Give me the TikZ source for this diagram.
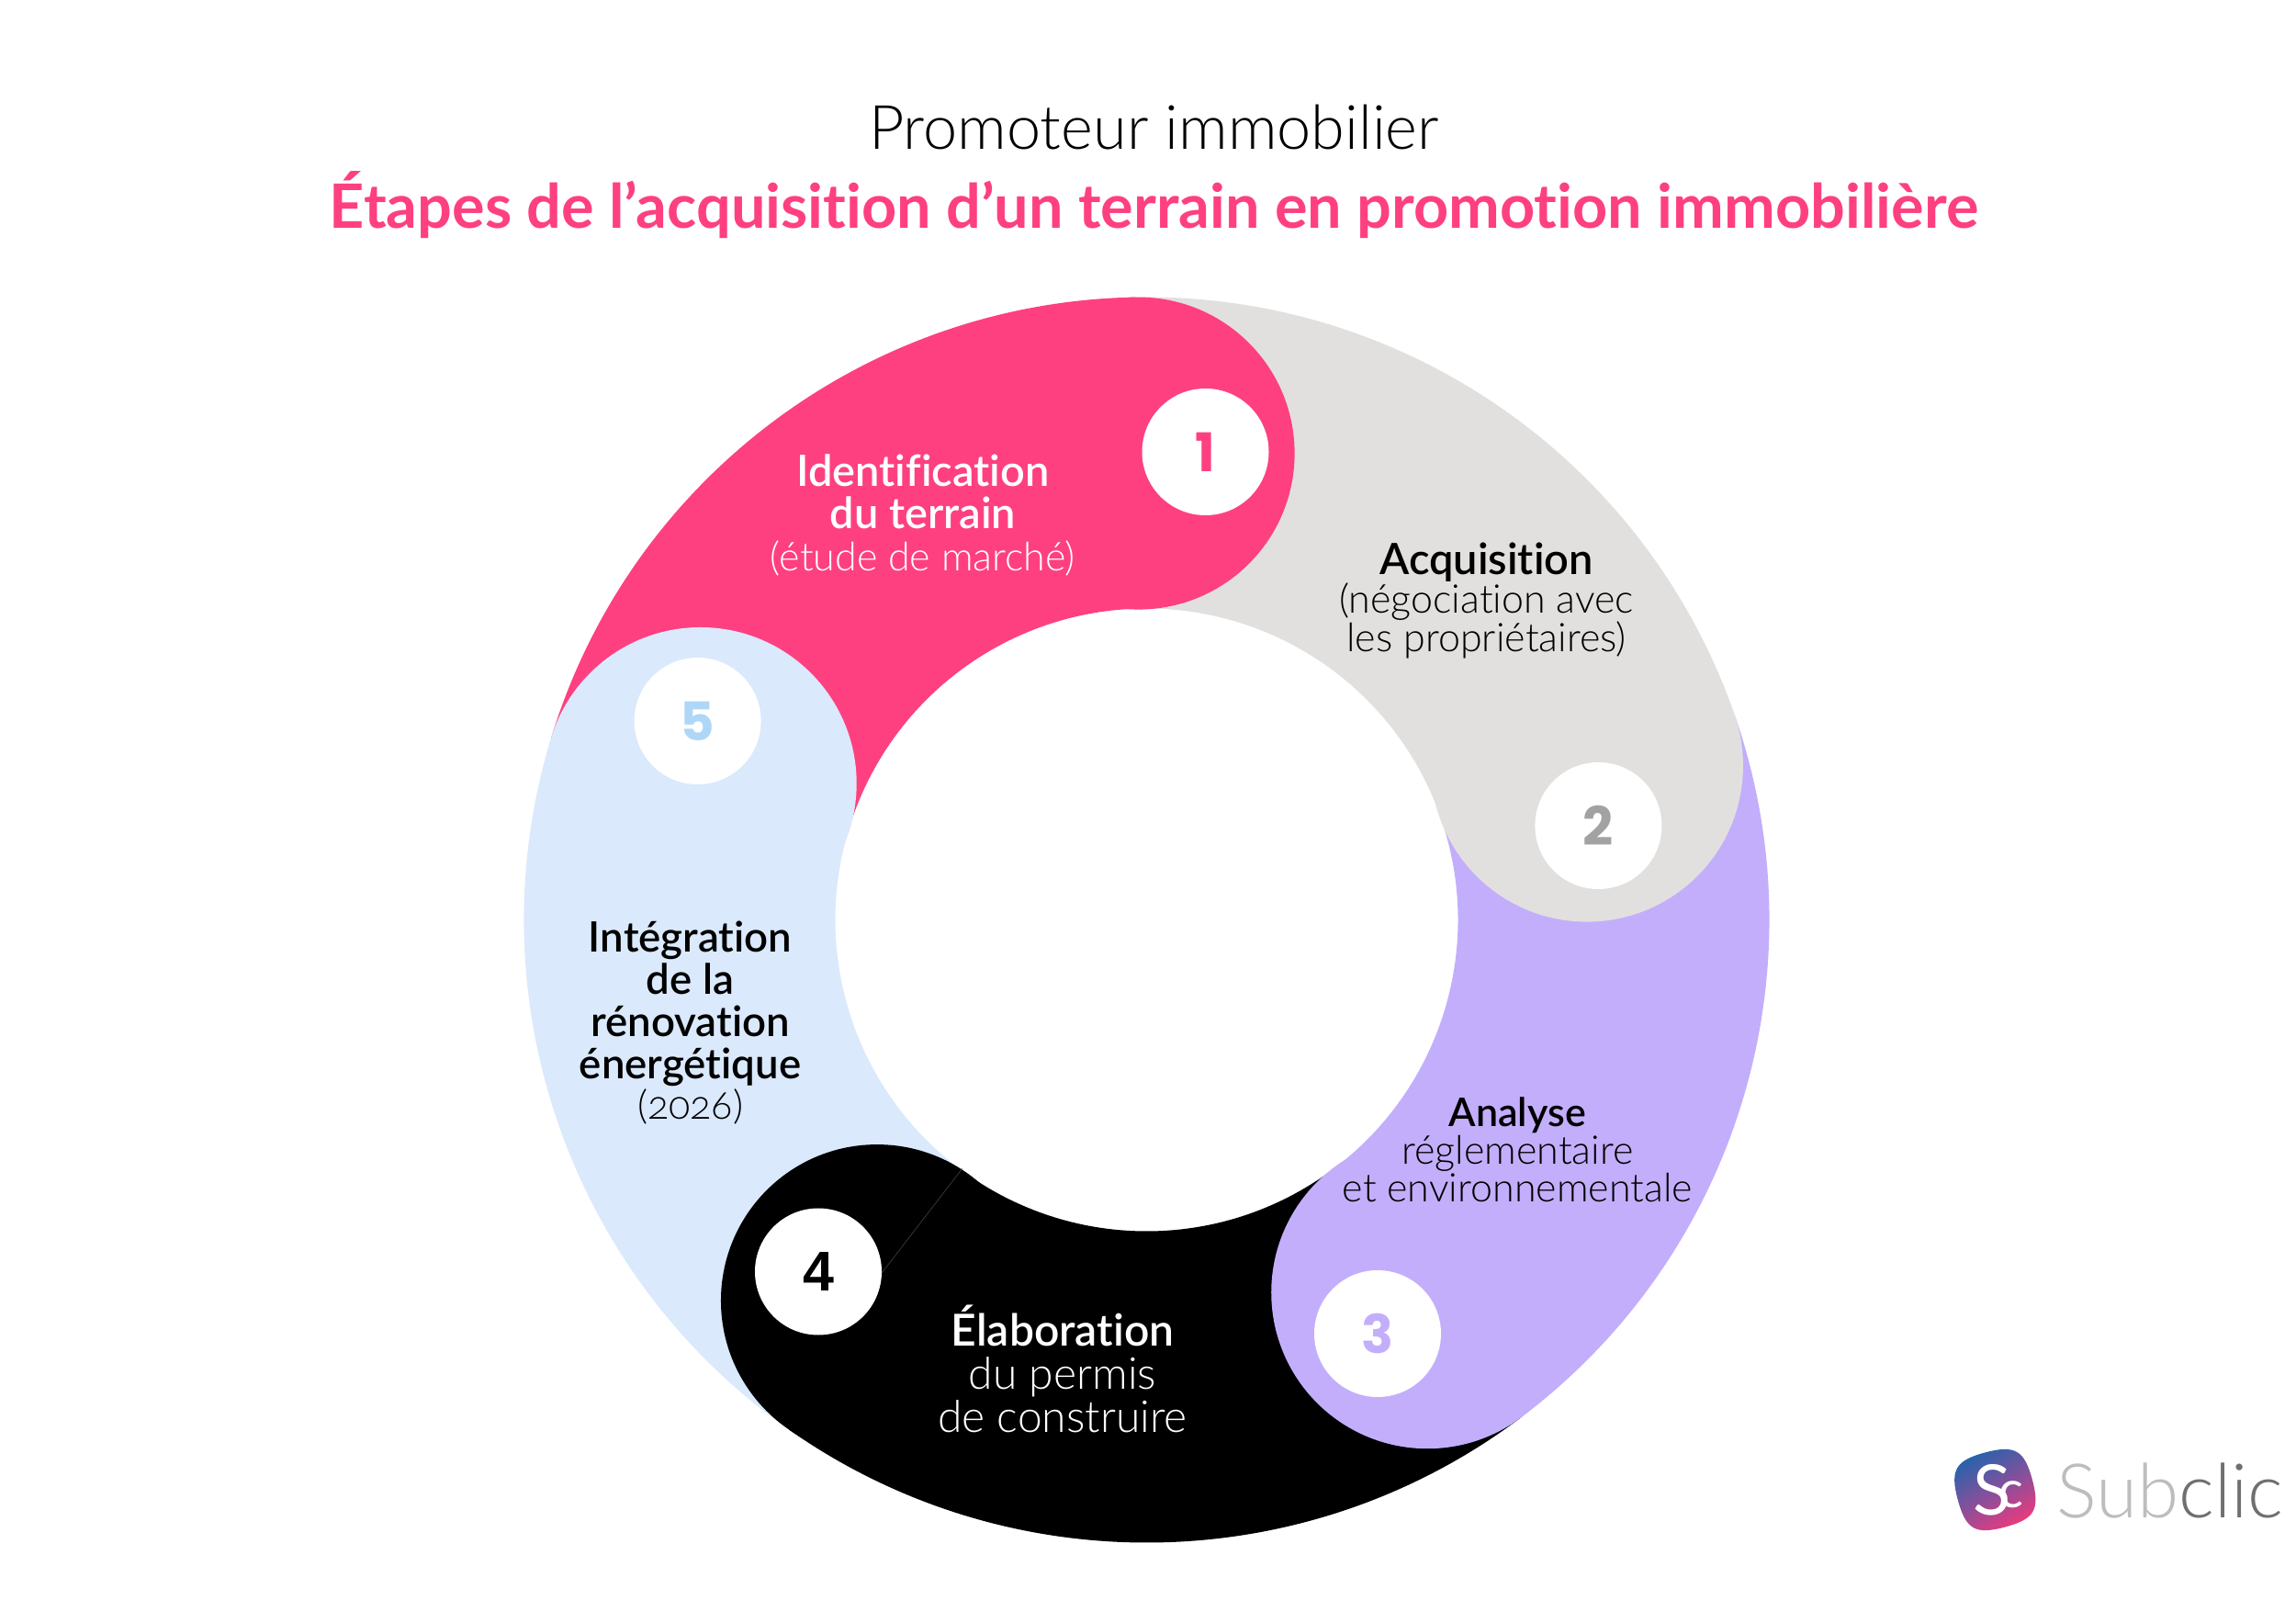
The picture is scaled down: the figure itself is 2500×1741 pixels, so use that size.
\documentclass[tikz,border=0pt]{standalone}
\usepackage{fontspec}
\setmainfont{Lato}[Ligatures=NoCommon]
\newfontfamily\litefont{Lato Light}[Ligatures=NoCommon]
\newfontfamily\semifont{Lato Semibold}[Ligatures=NoCommon]
\newfontfamily\numfont{Poppins}[UprightFont=* Bold]
\newfontfamily\fourfont{Liberation Sans}[UprightFont=* Bold]
\definecolor{cpink}{HTML}{FE4080}
\definecolor{cgray}{HTML}{E1E0DE}
\definecolor{cpurple}{HTML}{C3AEFC}
\definecolor{cblue}{HTML}{DAE9FB}
\definecolor{cnum2}{HTML}{A2A2A2}
\definecolor{cnum5}{HTML}{AED6F7}
\definecolor{logoblue}{HTML}{1E64AE}
\definecolor{logopink}{HTML}{F4387A}
\definecolor{logomid}{HTML}{85509C}
\definecolor{logolight}{HTML}{BDBDBD}
\definecolor{logodark}{HTML}{6F6F6F}
\newcommand{\bandpiece}[3]{%
  \fill[#1] (#2:678) arc[start angle=#2,end angle=#3,radius=339pt] -- (#3:339)
    arc[start angle=#3,end angle=#2,radius=169.5pt] -- cycle;}
\tikzset{
  head/.style={circle,inner sep=0pt,minimum size=170pt},
  badge/.style={circle,fill=white,inner sep=0pt,minimum size=69pt,font=\numfont\fontsize{29}{29}\selectfont},
  steptext/.style={align=center,inner sep=0pt,font=\fontsize{22}{#1}\selectfont},
}
\newcommand{\hd}[2][23.5]{{\semifont\fontsize{#1}{#1}\selectfont #2}}
\newcommand{\lt}[2][21.5]{{\litefont\fontsize{#1}{#1}\selectfont #2}}
\begin{document}
\begin{tikzpicture}[x=0.5pt,y=0.5pt]
\useasboundingbox (0,0) rectangle (2500,1741);
\fill[white] (0,0) rectangle (2500,1741);
\node[inner sep=0pt,font=\litefont\fontsize{33.3}{33.3}\selectfont] (title) at (1256.5,1602.5) {Promoteur immobilier};
\node[inner sep=0pt,text=cpink,font=\bfseries\fontsize{33.3}{33.3}\selectfont] (subtitle) at (1256.5,1518) {Étapes de l’acquisition d’un terrain en promotion immobilière};
\coordinate (c) at (1248.5,739.5);
\begin{scope}[shift={(c)}]
  \bandpiece{cpink}{91}{163}
  \bandpiece{cgray}{19}{91}
  \bandpiece{cpurple}{-53}{19}
  \bandpiece{black}{-125}{-53}
  \bandpiece{cblue}{163}{235}
  \node[head,fill=cpink] (head1) at (91:508) {};
  \node[head,fill=cgray] (head2) at (19.3:508) {};
  \node[head,fill=cpurple] (head3) at (-53:508) {};
  \node[head,fill=black] (head4) at (-125.3:508) {};
  \node[head,fill=cblue] (head5) at (163:508) {};
\end{scope}
\coordinate (seamA) at (1048,469);
\coordinate (seamB) at (957,351);
\draw[black!70,line width=0.25pt] (seamA) -- (seamB);
\node[badge,text=cpink] (n1) at (1312.5,1249) {1};
\node[badge,text=cnum2] (n2) at (1740.4,842) {2};
\node[badge,text=cpurple] (n3) at (1500,289) {3};
\node[badge,text=black,font=\fourfont\fontsize{30.5}{30.5}\selectfont] (n4) at (891,356.5) {4};
\node[badge,text=cnum5] (n5) at (759.6,956) {5};
\node[steptext=23,text=white] (t1) at (1004.8,1180) {\hd{Identification}\\\hd{du terrain}\\\lt{(étude de marché)}};
\node[steptext=21,text=black] (t2) at (1618.6,1087.5) {\hd{Acquisition}\\\lt{(négociation avec}\\\lt{les propriétaires)}};
\node[steptext=20.5,text=black] (t3) at (1652.3,489.5) {\hd[21.5]{Analyse}\\\lt{réglementaire}\\\lt{et environnementale}};
\node[steptext=23.5,text=white] (t4) at (1157,250.4) {\hd[24]{Élaboration}\\\lt[24]{du permis}\\\lt[24]{de construire}};
\node[steptext=23,text=black] (t5) at (751.6,627) {\hd[22.8]{Intégration}\\\hd[22.8]{de la}\\\hd[22.8]{rénovation}\\\hd[22.8]{énergétique}\\[-1pt]\lt{\addfontfeature{Numbers=OldStyle}(2026)}};
\coordinate (logo) at (2172.3,119);
\shade[shift={(logo)},rotate=15,top color=logoblue,bottom color=logopink,middle color=logomid,shading angle=30]
  (42,0) .. controls (42,33.5) and (33.5,42) .. (0,42)
  .. controls (-33.5,42) and (-42,33.5) .. (-42,0)
  .. controls (-42,-33.5) and (-33.5,-42) .. (0,-42)
  .. controls (33.5,-42) and (42,-33.5) .. (42,0) -- cycle;
\node[inner sep=0pt,text=white,xshift=1.8pt] (logotext) at (logo) {{\fontsize{38}{38}\selectfont S}\kern-6.5pt\raisebox{4pt}{\fontsize{28}{28}\selectfont c}};
\node[anchor=base west,inner sep=0pt,font=\litefont\fontsize{41}{41}\selectfont] (brand) at (2239,89) {\textcolor{logolight}{Sub}\textcolor{logodark}{clic}};
\end{tikzpicture}
\end{document}
